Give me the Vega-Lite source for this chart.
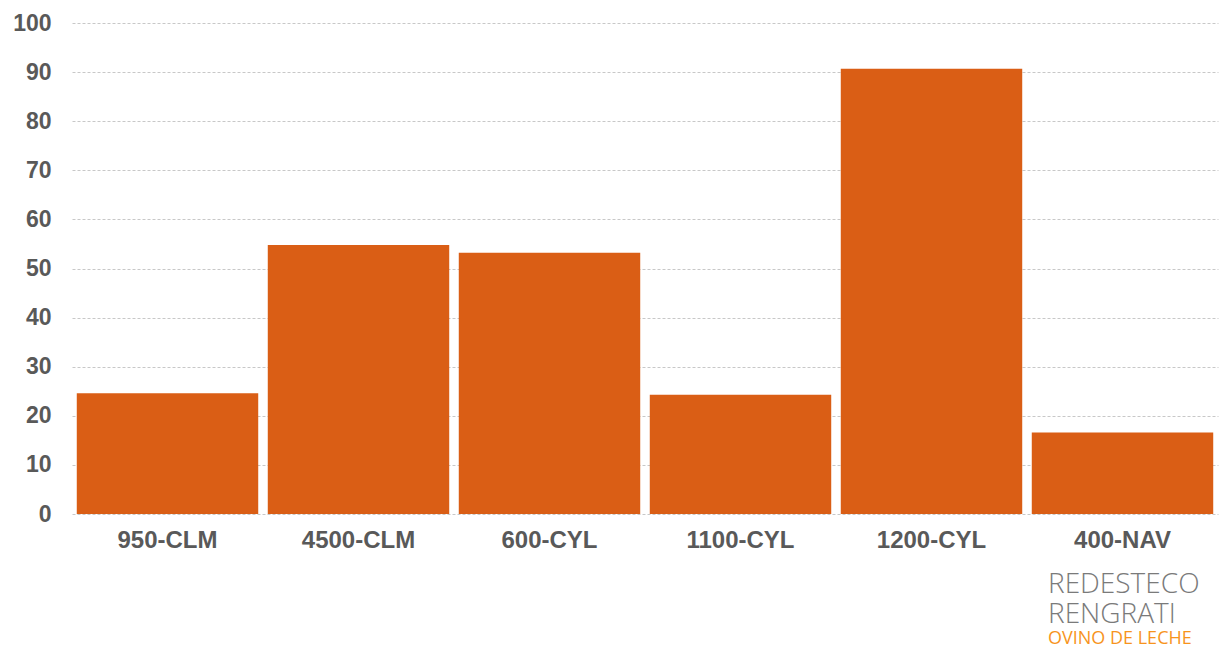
{
  "$schema": "https://vega.github.io/schema/vega-lite/v6.json",
  "autosize": {"type": "none"},
  "width": 1146,
  "height": 491,
  "padding": {"left": 72, "top": 23, "right": 1, "bottom": 135},
  "background": "white",
  "title": {
    "text": ["REDESTECO", "RENGRATI"],
    "subtitle": "OVINO DE LECHE",
    "orient": "bottom",
    "anchor": "end",
    "align": "left",
    "frame": "group",
    "offset": 19,
    "dx": -170,
    "font": "Open Sans",
    "fontSize": 28,
    "fontWeight": 300,
    "lineHeight": 30,
    "color": "#7a7a7a",
    "subtitleFont": "Open Sans",
    "subtitleFontSize": 18,
    "subtitleColor": "#f7941d",
    "subtitlePadding": 1
  },
  "data": {
    "values": [
      {"grupo": "950-CLM", "valor": 24.6},
      {"grupo": "4500-CLM", "valor": 54.8},
      {"grupo": "600-CYL", "valor": 53.2},
      {"grupo": "1100-CYL", "valor": 24.3},
      {"grupo": "1200-CYL", "valor": 90.7},
      {"grupo": "400-NAV", "valor": 16.6}
    ]
  },
  "mark": {"type": "bar", "color": "#da5e15"},
  "encoding": {
    "x": {
      "field": "grupo",
      "type": "nominal",
      "sort": null,
      "title": null,
      "scale": {"paddingInner": 0.05, "paddingOuter": 0.025},
      "axis": {
        "labelAngle": 0,
        "labelFont": "Liberation Sans",
        "labelFontWeight": "bold",
        "labelFontSize": 24,
        "labelColor": "#595959",
        "labelPadding": 14,
        "ticks": false,
        "domain": false,
        "grid": false
      }
    },
    "y": {
      "field": "valor",
      "type": "quantitative",
      "title": null,
      "scale": {"domain": [0, 100], "nice": false},
      "axis": {
        "values": [0, 10, 20, 30, 40, 50, 60, 70, 80, 90, 100],
        "labelFont": "Liberation Sans",
        "labelFontWeight": "bold",
        "labelFontSize": 23,
        "labelColor": "#595959",
        "labelPadding": 21,
        "ticks": false,
        "domain": false,
        "grid": true,
        "gridColor": "#c8c8c8",
        "gridDash": [3, 2],
        "gridWidth": 1
      }
    }
  },
  "config": {"view": {"stroke": null}}
}
